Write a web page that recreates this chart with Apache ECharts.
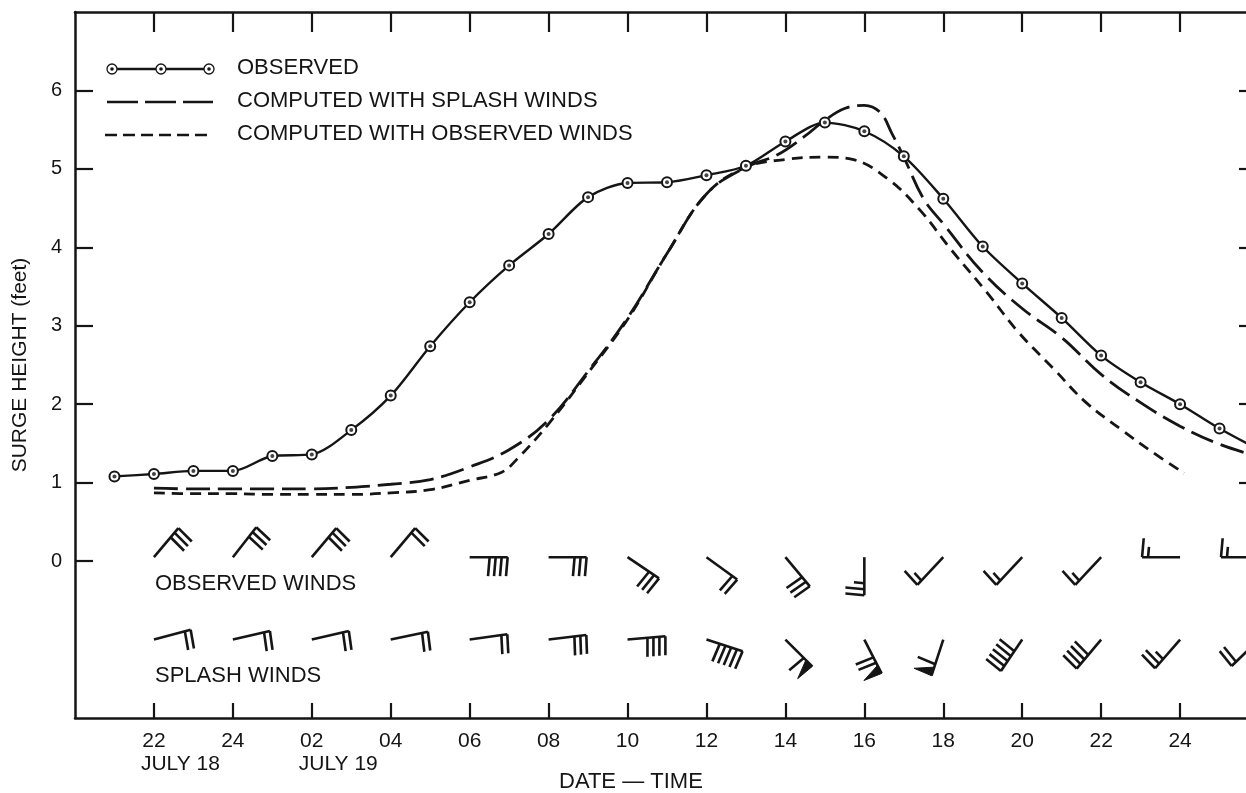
<!DOCTYPE html>
<html>
<head>
<meta charset="utf-8">
<title>Surge height</title>
<script src="https://cdn.jsdelivr.net/npm/echarts@6/dist/echarts.min.js"></script>
<style>
    html, body { margin: 0; padding: 0; background: #fff; }
    #chart { width: 1246px; height: 793px; }
</style>
</head>
<body>
<div id="chart"></div>
<script>
// hours counted from July 18 00:00
var observedHours  = [21, 22, 23, 24, 25, 26, 27, 28, 29, 30, 31, 32, 33, 34, 35, 36, 37, 38, 39, 40, 41, 42, 43, 44, 45, 46, 47, 48, 49, 50];
var observedValues = [1.08, 1.11, 1.15, 1.15, 1.34, 1.36, 1.67, 2.11, 2.74, 3.30, 3.77, 4.17, 4.64, 4.82, 4.83, 4.92, 5.04, 5.35, 5.59, 5.48, 5.16, 4.62, 4.01, 3.54, 3.10, 2.62, 2.28, 2.00, 1.69, 1.42];

var splashHours  = [22, 23, 24, 25, 26, 27, 28, 29, 30, 31, 32, 33, 34, 35, 36, 37, 37.8, 38.5, 39, 39.5, 40, 40.4, 40.7, 41, 41.5, 42, 43, 44, 45, 46, 47, 48, 49, 50];
var splashValues = [0.93, 0.92, 0.92, 0.92, 0.92, 0.94, 0.98, 1.04, 1.20, 1.42, 1.80, 2.42, 3.10, 3.92, 4.68, 5.02, 5.18, 5.42, 5.62, 5.77, 5.81, 5.72, 5.45, 5.15, 4.62, 4.30, 3.68, 3.22, 2.85, 2.38, 2.02, 1.72, 1.49, 1.33];

var obsWindCurveHours  = [22, 23, 24, 25, 26, 27, 28, 29, 30, 30.8, 31.2, 32, 33, 34, 35, 36, 37, 38, 39, 39.7, 40.6, 41.4, 42.2, 43.1, 43.9, 44.8, 45.6, 46.5, 47.3, 48.1];
var obsWindCurveValues = [0.87, 0.86, 0.86, 0.85, 0.85, 0.85, 0.87, 0.91, 1.03, 1.13, 1.30, 1.75, 2.40, 3.08, 3.92, 4.68, 5.02, 5.12, 5.15, 5.12, 4.87, 4.48, 3.97, 3.43, 2.92, 2.45, 2.03, 1.68, 1.39, 1.12];

// wind barbs, one every two hours: staff direction (deg), full barbs, half barbs, pennants
var windHours = [22, 24, 26, 28, 30, 32, 34, 36, 38, 40, 42, 44, 46, 48, 50];
var obsWindRow = 0.05;
var obsWindDir   = [50, 52, 50, 50, 0, 0, -34, -36, -50, -90, -133, -133, -133, 180, 180];
var obsWindFull  = [3, 3, 3, 2, 4, 3, 3, 2, 3, 2, 1, 1, 1, 1, 1];
var obsWindHalf  = [0, 0, 0, 0, 0, 0, 0, 0, 0, 1, 1, 1, 1, 1, 1];
var obsWindFlag  = [0, 0, 0, 0, 0, 0, 0, 0, 0, 0, 0, 0, 0, 0, 0];
var splashWindRow = -1.0;
var splashWindDir  = [15, 13, 13, 12, 8, 7, 5, -18, -45, -63, -108, -124, -130, -131, -136];
var splashWindFull = [2, 2, 2, 2, 2, 3, 4, 5, 1, 2, 1, 5, 4, 2, 2];
var splashWindHalf = [0, 0, 0, 0, 0, 0, 0, 0, 0, 0, 0, 0, 0, 1, 0];
var splashWindFlag = [0, 0, 0, 0, 0, 0, 0, 0, 1, 1, 1, 0, 0, 0, 0];

var xTickHours  = [22, 24, 26, 28, 30, 32, 34, 36, 38, 40, 42, 44, 46, 48];
var xTickLabels = ['22', '24', '02', '04', '06', '08', '10', '12', '14', '16', '18', '20', '22', '24'];
var xTickDates  = ['JULY 18', '', 'JULY 19', '', '', '', '', '', '', '', '', '', '', ''];
var yTickValues = [0, 1, 2, 3, 4, 5, 6];
var yRightTicks = [1, 2, 3, 4, 5, 6];

var INK = '#151515';
var FONT = '"Liberation Sans", Arial, sans-serif';

function pairs(xs, ys) {
    var out = [];
    for (var i = 0; i < xs.length; i++) out.push([xs[i], ys[i]]);
    return out;
}

function windData(row, dirs, full, half, flag) {
    var out = [];
    for (var i = 0; i < windHours.length; i++) {
        out.push([windHours[i], row, dirs[i], full[i], half[i], flag[i]]);
    }
    return out;
}

// draws one wind barb from the station point
function renderBarb(params, api) {
    var p = api.coord([api.value(0), api.value(1)]);
    var a = api.value(2) * Math.PI / 180;
    var full = api.value(3), half = api.value(4), flag = api.value(5);
    var STAFF = 38, BARB = 19, STEP = 6;
    var sx = Math.cos(a), sy = -Math.sin(a);
    var b = a - 95 * Math.PI / 180;
    var bx = Math.cos(b), by = -Math.sin(b);
    var tx = p[0] + STAFF * sx, ty = p[1] + STAFF * sy;
    var lineStyle = { stroke: INK, lineWidth: 2.6 };
    var children = [{
        type: 'line',
        shape: { x1: p[0], y1: p[1], x2: tx, y2: ty },
        style: lineStyle
    }];
    var d = 0;
    for (var i = 0; i < flag; i++) {
        var x0 = tx - d * sx, y0 = ty - d * sy;
        var x1 = tx - (d + 9) * sx, y1 = ty - (d + 9) * sy;
        children.push({
            type: 'polygon',
            shape: { points: [[x0, y0], [x1, y1], [x0 + BARB * bx, y0 + BARB * by]] },
            style: { fill: INK, stroke: INK, lineWidth: 1 }
        });
        d += 12;
    }
    for (var j = 0; j < full; j++) {
        var fx = tx - d * sx, fy = ty - d * sy;
        children.push({
            type: 'line',
            shape: { x1: fx, y1: fy, x2: fx + BARB * bx, y2: fy + BARB * by },
            style: lineStyle
        });
        d += STEP;
    }
    for (var k = 0; k < half; k++) {
        var hx = tx - d * sx, hy = ty - d * sy;
        children.push({
            type: 'line',
            shape: { x1: hx, y1: hy, x2: hx + BARB * 0.55 * bx, y2: hy + BARB * 0.55 * by },
            style: lineStyle
        });
        d += STEP;
    }
    return { type: 'group', children: children };
}

var chart = echarts.init(document.getElementById('chart'));

var axisLineStyle = { color: INK, width: 2.5 };

var graphics = [
    // legend
    { type: 'line', shape: { x1: 112, y1: 69, x2: 209, y2: 69 }, style: { stroke: INK, lineWidth: 2.4 } },
    { type: 'circle', shape: { cx: 112, cy: 69, r: 5 }, style: { fill: '#fff', stroke: INK, lineWidth: 1.3 } },
    { type: 'circle', shape: { cx: 161, cy: 69, r: 5 }, style: { fill: '#fff', stroke: INK, lineWidth: 1.3 } },
    { type: 'circle', shape: { cx: 209, cy: 69, r: 5 }, style: { fill: '#fff', stroke: INK, lineWidth: 1.3 } },
    { type: 'circle', shape: { cx: 112, cy: 69, r: 1.8 }, style: { fill: INK } },
    { type: 'circle', shape: { cx: 161, cy: 69, r: 1.8 }, style: { fill: INK } },
    { type: 'circle', shape: { cx: 209, cy: 69, r: 1.8 }, style: { fill: INK } },
    { type: 'text', left: 237, top: 57, style: { text: 'OBSERVED', font: '22px ' + FONT, fill: INK } },
    { type: 'line', shape: { x1: 107, y1: 102, x2: 213, y2: 102 }, style: { stroke: INK, lineWidth: 2.6, lineDash: [31, 7] } },
    { type: 'text', left: 237, top: 90, style: { text: 'COMPUTED WITH SPLASH WINDS', font: '22px ' + FONT, fill: INK } },
    { type: 'line', shape: { x1: 105, y1: 135, x2: 213, y2: 135 }, style: { stroke: INK, lineWidth: 2.6, lineDash: [12, 6] } },
    { type: 'text', left: 237, top: 123, style: { text: 'COMPUTED WITH OBSERVED WINDS', font: '22px ' + FONT, fill: INK } },
    // row labels for the wind barbs
    { type: 'text', left: 155, top: 573, style: { text: 'OBSERVED WINDS', font: '22px ' + FONT, fill: INK } },
    { type: 'text', left: 155, top: 665, style: { text: 'SPLASH WINDS', font: '22px ' + FONT, fill: INK } },
    // x axis title
    { type: 'text', left: 559, top: 771, style: { text: 'DATE \u2014 TIME', font: '22px ' + FONT, fill: INK } }
];

var option = {
    backgroundColor: '#fff',
    animation: false,
    textStyle: { fontFamily: FONT, color: INK },
    grid: { left: 75, right: -13, top: 12, bottom: 75, outerBoundsMode: 'none', containLabel: false },
    xAxis: [{
        type: 'value',
        min: 20,
        max: 50,
        interval: 2,
        position: 'bottom',
        axisLine: { onZero: false, lineStyle: axisLineStyle },
        axisTick: { customValues: xTickHours, inside: true, length: 15, lineStyle: { color: INK, width: 2.2 } },
        axisLabel: {
            customValues: xTickHours,
            margin: 13,
            showMinLabel: true,
            showMaxLabel: true,
            fontSize: 21,
            color: INK,
            fontFamily: FONT,
            formatter: function (v) {
                var i = xTickHours.indexOf(v);
                return i < 0 ? '' : xTickLabels[i];
            }
        },
        splitLine: { show: false }
    }, {
        type: 'value',
        min: 20,
        max: 50,
        interval: 2,
        position: 'top',
        axisLine: { onZero: false, lineStyle: axisLineStyle },
        axisTick: { customValues: xTickHours, inside: true, length: 20, lineStyle: { color: INK, width: 2.2 } },
        axisLabel: { show: false },
        splitLine: { show: false }
    }],
    yAxis: [{
        type: 'value',
        min: -2,
        max: 7,
        interval: 1,
        name: 'SURGE HEIGHT (feet)',
        nameLocation: 'middle',
        nameGap: 44,
        nameRotate: 90,
        nameTextStyle: { fontSize: 21, color: INK, fontFamily: FONT },
        axisLine: { show: true, onZero: false, lineStyle: axisLineStyle },
        axisTick: { show: true, customValues: yTickValues, inside: true, length: 18, lineStyle: { color: INK, width: 2.2 } },
        axisLabel: { customValues: yTickValues, margin: 13, fontSize: 20, color: INK, fontFamily: FONT },
        splitLine: { show: false }
    }, {
        type: 'value',
        min: -2,
        max: 7,
        interval: 1,
        position: 'right',
        axisLine: { show: true, onZero: false, lineStyle: axisLineStyle },
        axisTick: { show: true, customValues: yRightTicks, inside: true, length: 20, lineStyle: { color: INK, width: 2.2 } },
        axisLabel: { show: false },
        splitLine: { show: false }
    }],
    series: [{
        name: 'COMPUTED WITH OBSERVED WINDS',
        type: 'line',
        data: pairs(obsWindCurveHours, obsWindCurveValues),
        smooth: 0.4,
        symbol: 'none',
        lineStyle: { color: INK, width: 2.8, type: [11, 7] },
        z: 2
    }, {
        name: 'COMPUTED WITH SPLASH WINDS',
        type: 'line',
        data: pairs(splashHours, splashValues),
        smooth: 0.4,
        symbol: 'none',
        lineStyle: { color: INK, width: 2.8, type: [24, 8] },
        z: 3
    }, {
        name: 'OBSERVED',
        type: 'line',
        data: pairs(observedHours, observedValues),
        smooth: 0.3,
        symbol: 'emptyCircle',
        symbolSize: 10,
        itemStyle: { color: INK, borderWidth: 1.3 },
        lineStyle: { color: INK, width: 2.4 },
        z: 4
    }, {
        name: 'observed centres',
        type: 'scatter',
        data: pairs(observedHours, observedValues),
        symbolSize: 4,
        itemStyle: { color: INK },
        silent: true,
        z: 5
    }, {
        name: 'observed winds',
        type: 'custom',
        renderItem: renderBarb,
        data: windData(obsWindRow, obsWindDir, obsWindFull, obsWindHalf, obsWindFlag),
        silent: true,
        z: 6
    }, {
        name: 'splash winds',
        type: 'custom',
        renderItem: renderBarb,
        data: windData(splashWindRow, splashWindDir, splashWindFull, splashWindHalf, splashWindFlag),
        silent: true,
        z: 6
    }],
    graphic: graphics
};

chart.setOption(option);

// date lines under the tick labels, left-aligned with the hour label
for (var i = 0; i < xTickHours.length; i++) {
    if (!xTickDates[i]) continue;
    var px = chart.convertToPixel({ xAxisIndex: 0 }, xTickHours[i]);
    graphics.push({
        type: 'text', x: px - 13, y: 754,
        style: { text: xTickDates[i], font: '21px ' + FONT, fill: INK }
    });
}
chart.setOption({ graphic: graphics });
</script>
</body>
</html>
